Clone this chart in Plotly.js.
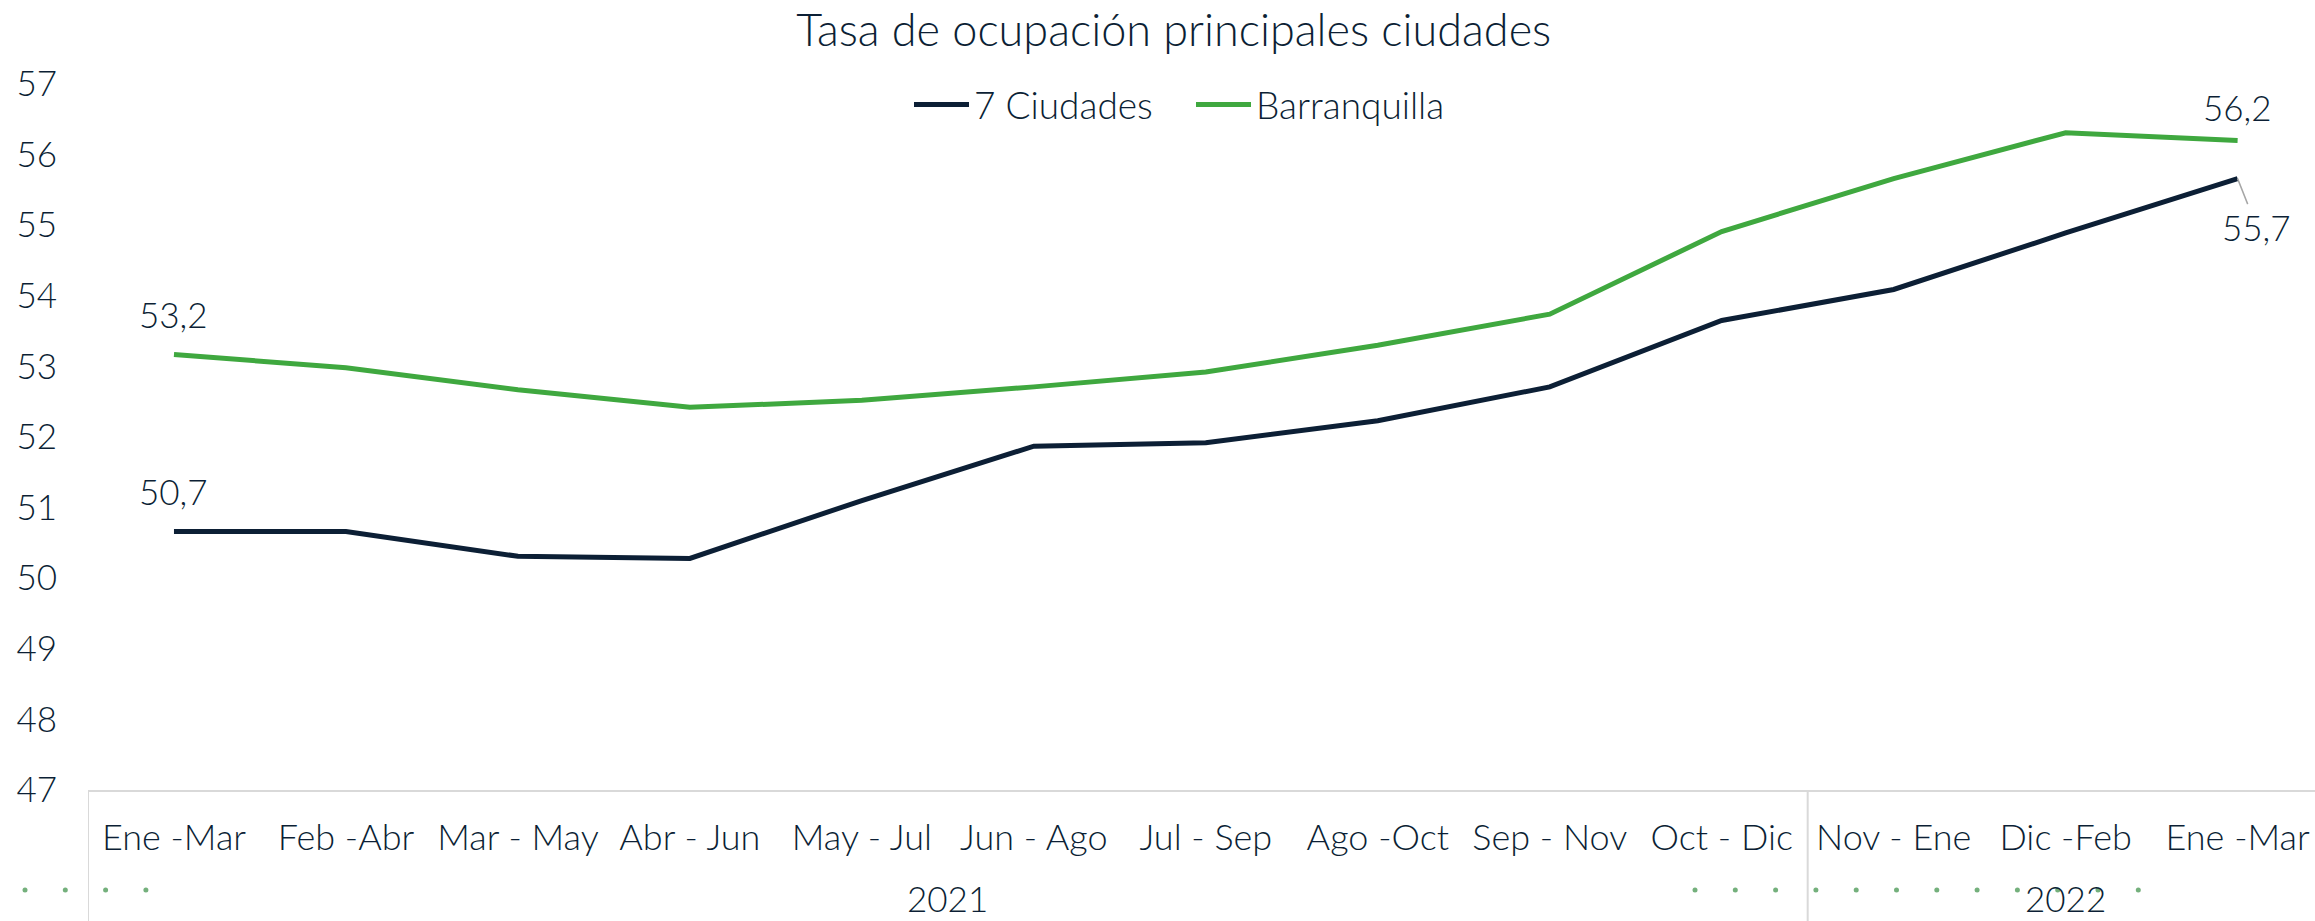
<!DOCTYPE html>
<html>
<head>
<meta charset="utf-8">
<script src="https://cdn.plot.ly/plotly-3.0.1.min.js"></script>
<style>
  html, body { margin: 0; padding: 0; background: #ffffff; }
  #chart { width: 2315px; height: 921px; }
</style>
</head>
<body>
<div id="chart"></div>
<script>
// ---- Data ----
const periods = ["Ene -Mar", "Feb -Abr", "Mar - May", "Abr - Jun", "May - Jul", "Jun - Ago", "Jul - Sep", "Ago -Oct", "Sep - Nov", "Oct - Dic", "Nov - Ene", "Dic -Feb", "Ene -Mar"];
const periodYears = ["2021", "2021", "2021", "2021", "2021", "2021", "2021", "2021", "2021", "2021", "2022", "2022", "2022"];
const sieteCiudades = [50.66, 50.66, 50.31, 50.28, 51.10, 51.87, 51.92, 52.23, 52.71, 53.65, 54.09, 54.89, 55.66];
const barranquilla = [53.17, 52.98, 52.67, 52.42, 52.52, 52.71, 52.92, 53.30, 53.74, 54.91, 55.66, 56.31, 56.20];
const seriesNames = ["7 Ciudades", "Barranquilla"];
const yTicks = [47, 48, 49, 50, 51, 52, 53, 54, 55, 56, 57];
const chartTitle = "Tasa de ocupación principales ciudades";

// ---- Style ----
const NAVY = "#0c1f35";
const GREEN = "#3fa83f";
const GRIDGRAY = "#d9d9d9";
const FONT = "Lato, 'Open Sans', 'Liberation Sans', sans-serif";
const fmt = v => v.toFixed(1).replace(".", ",");
const idx = periods.map((_, i) => i);
const last = periods.length - 1;

const W = 2315, H = 921;
const M = { l: 88, r: 0, t: 84, b: 131 };
const plotH = H - M.t - M.b;
const plotW = W - M.l - M.r;

const traces = [
  {
    type: "scatter", mode: "lines", name: seriesNames[0],
    x: idx, y: sieteCiudades,
    line: { color: NAVY, width: 5 }
  },
  {
    type: "scatter", mode: "lines", name: seriesNames[1],
    x: idx, y: barranquilla,
    line: { color: GREEN, width: 5 }
  }
];

const labelFont = { family: FONT, size: 35, color: NAVY, weight: 300 };

const annotations = [
  { x: 0, y: barranquilla[0], xref: "x", yref: "y", text: fmt(barranquilla[0]), showarrow: false, yanchor: "middle", yshift: 40, font: labelFont },
  { x: 0, y: sieteCiudades[0], xref: "x", yref: "y", text: fmt(sieteCiudades[0]), showarrow: false, yanchor: "middle", yshift: 41, font: labelFont },
  { x: last, y: barranquilla[last], xref: "x", yref: "y", text: fmt(barranquilla[last]), showarrow: false, yanchor: "middle", yshift: 33, font: labelFont },
  { x: last, y: sieteCiudades[last], xref: "x", yref: "y", text: fmt(sieteCiudades[last]), showarrow: true,
    arrowhead: 0, arrowwidth: 1.5, arrowcolor: "#a6a6a6", ax: 19, ay: 48, standoff: 0, font: labelFont }
];

// year group labels and dividers, computed from periodYears
const shapes = [];
const years = [...new Set(periodYears)];
years.forEach(yr => {
  const first = periodYears.indexOf(yr);
  const lastI = periodYears.lastIndexOf(yr);
  annotations.push({
    x: (first + lastI) / 2, xref: "x", y: -(898 - (H - M.b)) / plotH, yref: "paper",
    text: yr, showarrow: false, xanchor: "center", yanchor: "middle", borderpad: 0, font: labelFont
  });
  shapes.push({
    type: "line", xref: "x", yref: "paper", x0: first - 0.5, x1: first - 0.5,
    y0: 0, y1: -M.b / plotH, line: { color: GRIDGRAY, width: 2 }, layer: "above"
  });
});

// faint decorative dots along the bottom edge
const dotRow = [{ start: 25, n: 4 }, { start: 1695, n: 12 }];
dotRow.forEach(g => {
  for (let i = 0; i < g.n; i++) {
    const px = g.start + i * 40.3;
    shapes.push({
      type: "circle", xref: "paper", yref: "paper", xsizemode: "pixel", ysizemode: "pixel",
      xanchor: (px - M.l) / plotW, yanchor: -(890 - (H - M.b)) / plotH,
      x0: -2.5, x1: 2.5, y0: -2.5, y1: 2.5,
      line: { width: 0 }, fillcolor: "rgba(70,150,80,0.75)"
    });
  }
});

const layout = {
  width: W, height: H,
  paper_bgcolor: "#ffffff", plot_bgcolor: "#ffffff",
  margin: { l: M.l, r: M.r, t: M.t, b: M.b, pad: 0, autoexpand: false },
  font: { family: FONT, color: NAVY, size: 35, weight: 300 },
  title: {
    text: chartTitle,
    font: { family: FONT, size: 45, color: NAVY, weight: 300 },
    x: 0.507, xref: "container", xanchor: "center",
    y: 1 - 30 / H, yref: "container", yanchor: "middle"
  },
  showlegend: true,
  legend: {
    orientation: "h", xref: "container", yref: "container",
    x: 1191 / W, xanchor: "center", y: 1 - 105 / H, yanchor: "middle",
    font: { family: FONT, size: 37, color: NAVY, weight: 300 },
    itemwidth: 55, entrywidth: 212, entrywidthmode: "pixels",
    bgcolor: "rgba(0,0,0,0)", traceorder: "normal"
  },
  xaxis: {
    type: "linear",
    range: [-0.5, last + 0.45],
    tickmode: "array", tickvals: idx, ticktext: periods,
    showgrid: false, zeroline: false,
    showline: true, linecolor: GRIDGRAY, linewidth: 2,
    ticks: "", ticklabelstandoff: 15,
    tickfont: { family: FONT, size: 36, color: NAVY, weight: 300 }
  },
  yaxis: {
    range: [47, 57], tickmode: "array", tickvals: yTicks, ticktext: yTicks.map(String),
    showgrid: false, zeroline: false, showline: false, ticks: "",
    ticklabelstandoff: 30,
    tickfont: { family: FONT, size: 35, color: NAVY, weight: 300 }
  },
  annotations: annotations,
  shapes: shapes,
  hovermode: false
};

Plotly.newPlot("chart", traces, layout, { displayModeBar: false, staticPlot: true });
</script>
</body>
</html>
